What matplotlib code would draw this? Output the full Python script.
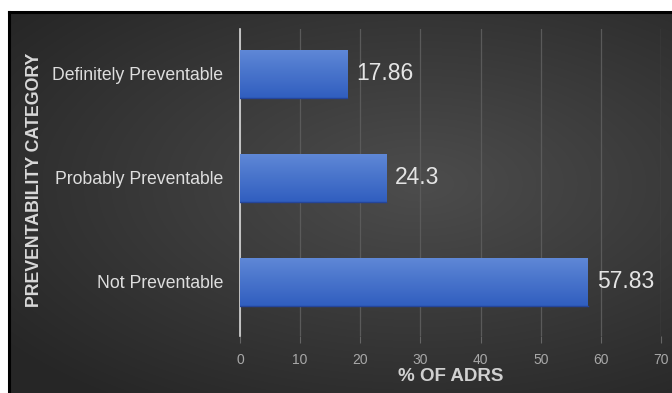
import matplotlib.pyplot as plt
import numpy as np

categories = ["Not Preventable", "Probably Preventable", "Definitely Preventable"]
values = [57.83, 24.3, 17.86]
value_labels = ["57.83", "24.3", "17.86"]
xticks = [0, 10, 20, 30, 40, 50, 60, 70]

plt.rcParams['font.family'] = ['Liberation Sans', 'DejaVu Sans']
narrow = ['Liberation Sans Narrow', 'Liberation Sans']

fig = plt.figure(figsize=(6.72, 3.93), dpi=100)
fig.patch.set_facecolor("white")

# dark panel with a soft radial gradient, inside a thin black frame
bg = fig.add_axes([9 / 672, 0, 1 - 9 / 672, 1 - 13 / 393])
yy, xx = np.mgrid[0:1:200j, 0:1:300j]
r = np.sqrt(((xx - 0.62) / 0.9) ** 2 + ((yy - 0.45) / 0.8) ** 2)
shade = np.clip(0.30 - 0.17 * r, 0.15, 0.30)
bg.imshow(np.dstack([shade] * 3), aspect="auto", extent=[0, 1, 0, 1], interpolation="bilinear")
bg.set_axis_off()
fig.add_artist(plt.Line2D([9 / 672, 1], [1 - 12 / 393] * 2, color="black", lw=2.2))
fig.add_artist(plt.Line2D([9 / 672] * 2, [0, 1 - 12 / 393], color="black", lw=2.2))

ax = fig.add_axes([240 / 672, 1 - 336 / 393, (661 - 240) / 672, (336 - 29) / 393])
ax.set_facecolor("none")
y = np.arange(len(categories))
bars = ax.barh(y, values, height=0.46, color="#4472c4", zorder=3)

# vertical gradient on each bar, lighter at the top
grad = np.linspace(0, 1, 50)[:, None]
cols = np.array([[0.37, 0.53, 0.84], [0.19, 0.37, 0.75]])
img = cols[0] + (cols[1] - cols[0]) * grad[..., None]
for b in bars:
    x0, y0 = b.get_x(), b.get_y()
    w, h = b.get_width(), b.get_height()
    ax.imshow(img, aspect="auto", extent=[x0, x0 + w, y0, y0 + h], zorder=4)
    ax.plot([x0, x0 + w], [y0, y0], color="#25459a", lw=1, zorder=5)

for yi, v, lab in zip(y, values, value_labels):
    ax.text(v + 1.5, yi, lab, va="center", ha="left", fontsize=16.5, color="#e4e4e4", zorder=6)

ax.set_xlim(0, 70)
ax.set_ylim(-0.52, 2.43)
ax.set_xticks(xticks)
ax.set_xticklabels([str(t) for t in xticks], color="#a8a8a8", fontsize=10, family=narrow)
ax.set_yticks(y)
ax.set_yticklabels(categories, color="#dedede", fontsize=12.7)
ax.tick_params(axis="y", length=0, pad=12)
ax.tick_params(axis="x", length=5, color="#666666", pad=7)
ax.grid(axis="x", color="#5a5a5a", lw=0.9, zorder=1)
for s in ["top", "right", "bottom"]:
    ax.spines[s].set_visible(False)
ax.spines["left"].set_color("#d8d8d8")
ax.spines["left"].set_linewidth(1.2)

ax.set_xlabel("% OF ADRS", color="#d0d0d0", fontsize=13.5, fontweight="bold", labelpad=1,
              family=narrow)
fig.text(35 / 672, 1 - 180 / 393, "PREVENTABILITY CATEGORY", rotation=90, va="center", ha="center",
         color="#d8d8d8", fontsize=12.8, fontweight="bold")

fig.savefig("out.png", dpi=100)
